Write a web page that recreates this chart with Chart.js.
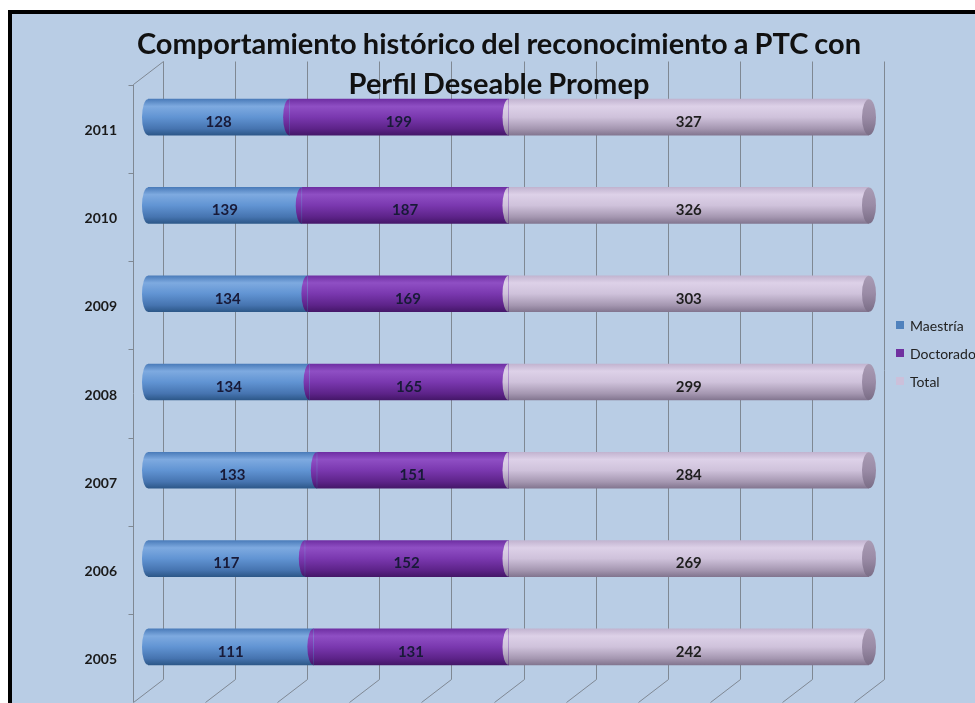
<!DOCTYPE html>
<html>
<head>
<meta charset="utf-8">
<script src="https://cdn.jsdelivr.net/npm/chart.js@4.4.0/dist/chart.umd.min.js"></script>
<style>
body { margin:0; width:975px; height:703px; overflow:hidden; background:#fff; position:relative; }
#frame { position:absolute; left:8px; top:10px; width:1000px; height:720px; background:#b9cde5; border-left:4px solid #000; border-top:4px solid #000; }
#chart { position:absolute; left:0; top:0; }
#title { position:absolute; left:0; top:23px; width:998px; text-align:center; font:bold 29px Lato, sans-serif; word-spacing:-1px; line-height:40px; color:#111; }
#legend { position:absolute; left:896px; top:311px; font:14px Lato, sans-serif; color:#222; }
.item { display:flex; align-items:center; height:28px; white-space:nowrap; }
.item i { display:inline-block; width:8px; height:8px; margin-right:6px; }
</style>
</head>
<body>
<div id="frame"></div>
<canvas id="chart" width="975" height="703"></canvas>
<div id="title">Comportamiento histórico del reconocimiento a PTC con<br>Perfil Deseable Promep</div>
<div id="legend"></div>
<script>
const years = ['2011', '2010', '2009', '2008', '2007', '2006', '2005'];
const maestria = [128, 139, 134, 134, 133, 117, 111];
const doctorado = [199, 187, 169, 165, 151, 152, 131];
const total = [327, 326, 303, 299, 284, 269, 242];
const seriesNames = ['Maestría', 'Doctorado', 'Total'];
const seriesColors = ['#4f81bd', '#7030a0', '#ccc0da'];

const counts = [maestria, doctorado, total];
const BAR = 36;   // bar thickness
const DX = 15;    // 3d depth offset
const DY = 11.5;

// cylinder shading, top -> bottom
const shades = [
    ['#4b7cba', '#7eaae0', '#6194d3', '#4674b0', '#2d5889'],
    ['#6f2fa3', '#8f4fc4', '#7a38af', '#5d2389', '#451769'],
    ['#c2b4d0', '#ddd1e8', '#cfc2db', '#a597b1', '#837690']
];
const stopPos = [0, 0.2, 0.5, 0.82, 1];

function cylinder(stops) {
    return function (c) {
        const chart = c.chart;
        if (!chart.chartArea || c.type !== 'data') return stops[2];
        const y = chart.scales.y.getPixelForValue(c.dataIndex);
        const g = chart.ctx.createLinearGradient(0, y - BAR / 2, 0, y + BAR / 2);
        stops.forEach((s, i) => g.addColorStop(stopPos[i], s));
        return g;
    };
}

function pct(arr) {
    return arr.map((v, i) => v / (maestria[i] + doctorado[i] + total[i]) * 100);
}

const wallPlugin = {
    id: 'wall',
    beforeDatasetsDraw(chart) {
        const {ctx, chartArea: a, scales: {x, y}} = chart;
        ctx.save();
        ctx.strokeStyle = '#7f8893';
        ctx.lineWidth = 1;
        ctx.beginPath();
        x.ticks.forEach(t => {
            const px = Math.round(x.getPixelForValue(t.value)) + 0.5;
            ctx.moveTo(px + DX, a.top - DY);
            ctx.lineTo(px + DX, a.bottom - DY);
            ctx.lineTo(px - DX, a.bottom + DY);
        });
        const fx = Math.round(a.left - DX) + 0.5;
        ctx.moveTo(fx + 2 * DX, a.top - DY);
        ctx.lineTo(fx, a.top + DY);
        ctx.lineTo(fx, a.bottom + DY);
        const band = (a.bottom - a.top) / years.length;
        for (let i = 0; i <= years.length; i++) {
            const by = Math.round(y.getPixelForValue(0) - band / 2 + i * band + DY) + 0.5;
            ctx.moveTo(fx - 5, by);
            ctx.lineTo(fx, by);
        }
        ctx.stroke();
        ctx.restore();
    }
};

const capPlugin = {
    id: 'caps',
    afterDatasetsDraw(chart) {
        const ctx = chart.ctx;
        const n = chart.data.datasets.length;
        chart.data.datasets.forEach((ds, di) => {
            chart.getDatasetMeta(di).data.forEach((el, i) => {
                const h = el.height / 2;
                ctx.save();
                ctx.fillStyle = el.options.backgroundColor;
                ctx.beginPath();
                ctx.ellipse(el.base, el.y, 6, h, 0, Math.PI / 2, Math.PI * 1.5);
                ctx.fill();
                if (di === n - 1) {
                    const g = ctx.createLinearGradient(0, el.y - h, 0, el.y + h);
                    g.addColorStop(0, '#a99bb4');
                    g.addColorStop(0.5, '#9a8ba6');
                    g.addColorStop(1, '#7a6d86');
                    ctx.fillStyle = g;
                    ctx.beginPath();
                    ctx.ellipse(el.x, el.y, 7, h, 0, 0, Math.PI * 2);
                    ctx.fill();
                }
                ctx.restore();
            });
        });
        // value labels
        ctx.save();
        ctx.font = 'bold 15px Lato, sans-serif';
        ctx.textAlign = 'center';
        ctx.textBaseline = 'middle';
        chart.data.datasets.forEach((ds, di) => {
            ctx.fillStyle = di === 2 ? '#1e1e1e' : '#181a38';
            chart.getDatasetMeta(di).data.forEach((el, i) => {
                ctx.fillText(counts[di][i], (el.base + el.x) / 2, el.y + 5);
            });
        });
        ctx.restore();
    }
};

const chart = new Chart(document.getElementById('chart'), {
    type: 'bar',
    data: {
        labels: years,
        datasets: seriesNames.map((name, i) => ({
            label: name,
            data: pct(counts[i]),
            backgroundColor: cylinder(shades[i]),
            borderWidth: 0,
            barThickness: BAR
        }))
    },
    options: {
        indexAxis: 'y',
        responsive: false,
        animation: false,
        events: [],
        layout: { padding: { left: 0, top: 73, right: 106, bottom: 12 } },
        scales: {
            x: {
                stacked: true, min: 0, max: 100,
                ticks: { display: false, stepSize: 10 },
                grid: { display: false, drawTicks: false },
                border: { display: false },
                afterFit(s) { s.height = 0; s.paddingLeft = 0; s.paddingRight = 0; }
            },
            y: {
                stacked: true,
                grid: { display: false, drawTicks: false },
                border: { display: false },
                ticks: { padding: 31, labelOffset: 13, color: '#1a1a1a', font: { family: 'Lato', weight: 'bold', size: 14 } },
                afterFit(s) { s.width = 148; s.paddingTop = 0; s.paddingBottom = 0; }
            }
        },
        plugins: {
            legend: { display: false },
            tooltip: { enabled: false }
        }
    },
    plugins: [wallPlugin, capPlugin]
});

// legend
const legend = document.getElementById('legend');
chart.data.datasets.forEach((ds, i) => {
    const item = document.createElement('div');
    item.className = 'item';
    item.innerHTML = '<i style="background:' + seriesColors[i] + '"></i>' + ds.label;
    legend.appendChild(item);
});
</script>
</body>
</html>
